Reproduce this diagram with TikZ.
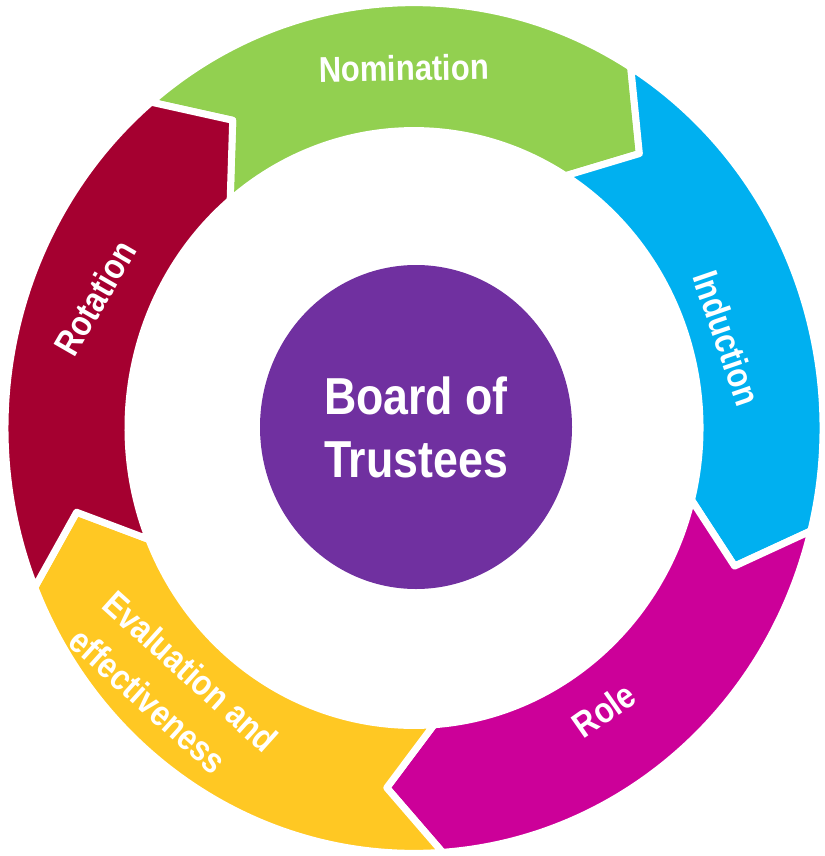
\documentclass[tikz,border=0pt]{standalone}
\usepackage{fontspec}
\setmainfont{Liberation Sans}[FakeStretch=0.86]
\usepackage{tikz}
\usetikzlibrary{shapes.geometric}
\definecolor{nomgreen}{HTML}{92D050}
\definecolor{indblue}{HTML}{00B0F0}
\definecolor{rolepink}{HTML}{CC0099}
\definecolor{evalyellow}{HTML}{FFC823}
\definecolor{rotred}{HTML}{A50030}
\definecolor{boardpurple}{HTML}{7030A0}
\def\rin{286}
\def\rout{409}
\def\rmid{347}
\tikzset{
   ringpart/.style={draw=white, line width=3.5pt, line join=round},
   steplabel/.style={text=white, inner sep=0pt,
      font=\bfseries\fontsize{18}{25}\selectfont},
   boardnode/.style={ellipse, fill=boardpurple, text=white, inner sep=0pt,
      minimum width=156pt, minimum height=162pt, align=center,
      font=\bfseries\fontsize{26}{31.5}\selectfont},
    }
% one arrow of the ring: tail at #1, head 72 degrees further clockwise
\newcommand{\ringarrow}[2]{%
   \filldraw[ringpart, fill=#2] (#1:\rout)
      arc[start angle=#1, end angle=#1-72, radius=\rout]
      -- (#1-80.5:\rmid) -- (#1-72:\rin)
      arc[start angle=#1-72, end angle=#1, radius=\rin]
      -- (#1-8.5:\rmid) -- cycle;}

\begin{document}
\begin{tikzpicture}[x=0.5pt, y=-0.5pt]
            \useasboundingbox (0,0) rectangle (824,856);
            \begin{scope}[shift={(414,428)}, yscale=-1.04]
               \ringarrow{130}{nomgreen}
               \ringarrow{58}{indblue}
               \ringarrow{-14}{rolepink}
               \ringarrow{-86}{evalyellow}
               \ringarrow{-158}{rotred}
            \end{scope}
            \node[boardnode] (board) at (416,427) {Board of\\Trustees};
            \node[steplabel, rotate=1] (nomination) at (404,68) {Nomination};
            \node[steplabel, rotate=-71] (induction) at (727,338) {Induction};
            \node[steplabel, rotate=35] (role) at (604,710) {Role};
            \node[steplabel, rotate=-42, align=left] (evaluation) at (174,690)
                 {Evaluation and\\effectiveness};
            \node[steplabel, rotate=60] (rotation) at (95,298) {Rotation};
        \end{tikzpicture}
\end{document}
